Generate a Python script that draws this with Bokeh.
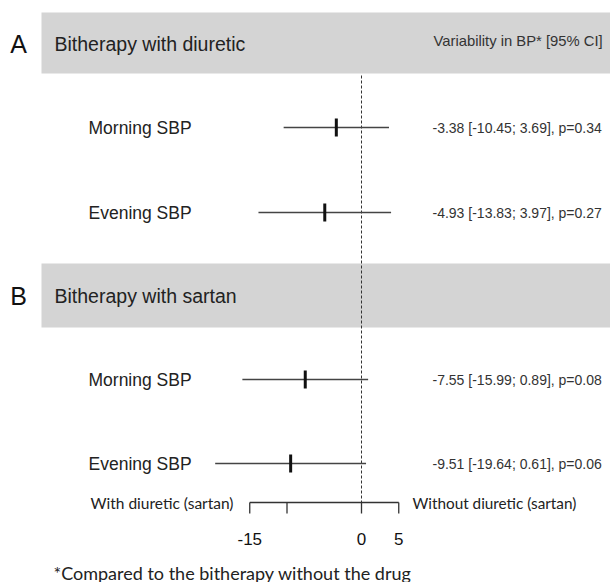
from bokeh.plotting import figure
from bokeh.models import Range1d
from bokeh.core.properties import value
from bokeh.embed import file_html
from bokeh.resources import INLINE

# ---- data ----
groups = ["Bitherapy with diuretic", "Bitherapy with sartan"]
group_letters = ["A", "B"]
rows = ["Morning SBP", "Evening SBP", "Morning SBP", "Evening SBP"]
estimates = [-3.38, -4.93, -7.55, -9.51]
ci_low = [-10.45, -13.83, -15.99, -19.64]
ci_high = [3.69, 3.97, 0.89, 0.61]
p_values = [0.34, 0.27, 0.08, 0.06]
tick_values = [-15, -10, 0, 5]
tick_labels = ["-15", "", "0", "5"]
column_header = "Variability in BP* [95% CI]"
left_axis_label = "With diuretic (sartan)"
right_axis_label = "Without diuretic (sartan)"
footnote = "*Compared to the bitherapy without the drug"

# ---- layout ----
W, H = 610, 582
ZERO_PX = 361.0
PX_PER_UNIT = 7.45


def dx(px):
    return (px - ZERO_PX) / PX_PER_UNIT


p = figure(width=W, height=H, output_backend="svg", toolbar_location=None,
           x_range=Range1d(dx(0), dx(W)), y_range=Range1d(H, 0),
           min_border=0)
p.axis.visible = False
p.grid.visible = False
p.outline_line_color = None
p.background_fill_color = "white"
p.border_fill_color = "white"

band_tops = [12, 263]
band_bottoms = [73, 327]
band_centers = [43, 295]
row_y = [127, 212, 379, 463]
axis_y = 502

# grey bands
p.quad(left=[dx(41)] * 2, right=[dx(W + 5)] * 2, top=band_tops, bottom=band_bottoms,
       fill_color="#d4d4d4", line_color=None)

# dashed zero line
p.segment(x0=[0], x1=[0], y0=[band_bottoms[0] + 2], y1=[axis_y], line_color="#333333",
          line_width=1, line_dash="3 2")

# letters and group headers
p.text(x=[dx(18)] * 2, y=band_centers, text=group_letters, text_font=value("Liberation Sans"),
       text_font_size="25px", text_align="center", text_baseline="middle", text_color="#111111")
p.text(x=[dx(54)] * 2, y=band_centers, text=groups, text_font=value("Liberation Sans"),
       text_font_size="19.5px", text_align="left", text_baseline="middle", text_color="#222222")
p.text(x=[dx(433)], y=[40], text=[column_header], text_font=value("Liberation Sans"),
       text_font_size="14.8px", text_align="left", text_baseline="middle", text_color="#333333")

# row labels
p.text(x=[dx(88)] * 4, y=row_y, text=rows, text_font=value("Liberation Sans"),
       text_font_size="17.5px", text_align="left", text_baseline="middle", text_color="#222222")

# CI lines and point estimates
p.segment(x0=ci_low, x1=ci_high, y0=row_y, y1=row_y, line_color="#444444", line_width=1.3)
p.segment(x0=estimates, x1=estimates, y0=[y - 9 for y in row_y], y1=[y + 9 for y in row_y],
          line_color="#111111", line_width=3)

# right texts
right_texts = [f"{e:.2f} [{l:.2f}; {h:.2f}], p={pv:.2f}"
               for e, l, h, pv in zip(estimates, ci_low, ci_high, p_values)]
p.text(x=[dx(432)] * 4, y=row_y, text=right_texts, text_font=value("Liberation Sans"),
       text_font_size="14px", text_align="left", text_baseline="middle", text_color="#333333")

# custom axis
p.segment(x0=[min(tick_values)], x1=[max(tick_values)], y0=[axis_y], y1=[axis_y],
          line_color="#333333", line_width=1.3)
p.segment(x0=tick_values, x1=tick_values, y0=[axis_y] * len(tick_values),
          y1=[axis_y + 11] * len(tick_values), line_color="#333333", line_width=1.3)
p.text(x=tick_values, y=[538] * len(tick_values), text=tick_labels, text_font=value("Liberation Sans"),
       text_font_size="17px", text_align="center", text_baseline="middle", text_color="#111111")
p.text(x=[dx(233)], y=[axis_y], text=[left_axis_label], text_font=value("Lato"),
       text_font_size="15.5px", text_align="right", text_baseline="middle", text_color="#222222")
p.text(x=[dx(412)], y=[axis_y], text=[right_axis_label], text_font=value("Lato"),
       text_font_size="15.3px", text_align="left", text_baseline="middle", text_color="#222222")

# footnote
p.text(x=[dx(53)], y=[572], text=[footnote], text_font=value("Lato"),
       text_font_size="18px", text_align="left", text_baseline="middle", text_color="#222222")

open("out.html", "w").write(file_html(p, INLINE))
